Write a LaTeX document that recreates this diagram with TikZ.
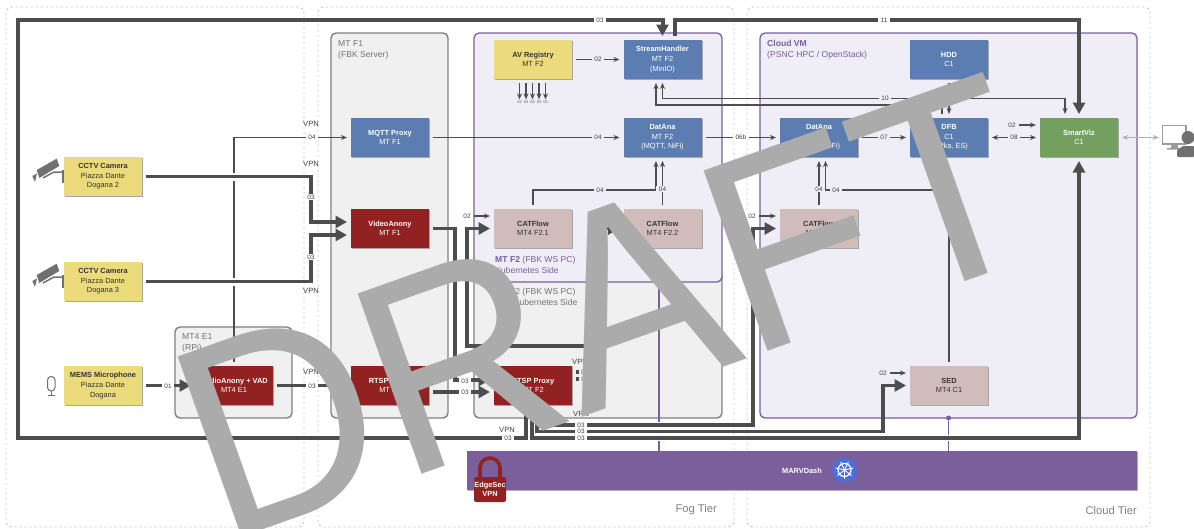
\documentclass[tikz,border=0pt]{standalone}
\usepackage{fontspec}
\setmainfont{Liberation Sans}
\usetikzlibrary{arrows.meta, shapes.geometric, shadows}
\definecolor{pipeink}{HTML}{4D4D4D}
\definecolor{tierline}{HTML}{C9C9C9}
\definecolor{hostfill}{HTML}{F0F0F0}
\definecolor{hostline}{HTML}{808080}
\definecolor{vmfill}{HTML}{EFEDF5}
\definecolor{vmline}{HTML}{7A5F9C}
\definecolor{srcyellow}{HTML}{EBDB7C}
\definecolor{svcblue}{HTML}{5B7DB1}
\definecolor{anonred}{HTML}{922222}
\definecolor{mtpink}{HTML}{D1BCBC}
\definecolor{vizgreen}{HTML}{74A05F}
\definecolor{kubeblue}{HTML}{4A6EE0}
\definecolor{iconink}{HTML}{707070}
\definecolor{stampgray}{HTML}{ABABAB}
\tikzset{
  tierbox/.style={
    rectangle, rounded corners=6pt, minimum width=#1, minimum height=520pt,
    draw=tierline, line width=0.9pt, dash pattern=on 2.5pt off 2.5pt
  },
  hostbox/.style={
    rectangle, rounded corners=5pt, outer sep=0pt,
    fill=hostfill, draw=hostline, line width=1.4pt
  },
  vmbox/.style={
    rectangle, rounded corners=5pt, outer sep=0pt,
    fill=vmfill, draw=vmline, line width=1.3pt
  },
  svcbox/.style={
    rectangle, outer sep=0pt, inner sep=0pt,
    minimum width=78pt, minimum height=39pt,
    align=center, font=\fontsize{7.4}{9.6}\selectfont,
    fill=#1, text=white,
    drop shadow={shadow xshift=1pt, shadow yshift=-1pt, fill=black!35, opacity=1}
  },
  inkbox/.style={svcbox=#1, text=black!80},
  hosttitle/.style={
    anchor=west, inner sep=0pt, align=left,
    font=\fontsize{8.6}{11}\selectfont, text=#1
  },
  linklabel/.style={
    font=\fontsize{6.4}{7}\selectfont, fill=#1, inner xsep=2.5pt, inner ysep=1pt, text=black!75
  },
  linklabel/.default=white,
  vpnlabel/.style={font=\fontsize{7.6}{9}\selectfont, inner sep=0pt, text=black!75},
  tierlabel/.style={anchor=east, inner sep=0pt, font=\fontsize{11.2}{13}\selectfont, text=black!50},
  thinarrow/.style={->, >={Stealth[length=6pt, width=5pt]}, line width=1.2pt, color=pipeink,
    shorten >=4pt, shorten <=4pt},
  fatarrow/.style={-{Triangle[length=11.5pt, width=12pt]}, line width=3.4pt, color=pipeink,
    shorten >=4pt, shorten <=4pt},
  crossgap/.style={white, line width=8pt},
  kubelink/.style={line width=1.2pt, color=vmline},
  camicon/.pic={
    \fill[iconink] (36.7,170)--(56.7,158.7)--(59.3,166)--(39.3,178)--cycle;
    \fill[iconink] (32.3,176)--(37,173.5)--(35,182)--cycle;
    \draw[iconink, line width=1.5pt] (43,178)--(54,172)--(63,172);
    \fill[iconink] (62,170) rectangle (65,183);
  },
  micicon/.pic={
    \draw[iconink, line width=1pt, rounded corners=3.5pt] (47.5,376.5) rectangle (55,391);
    \draw[iconink, line width=1pt] (51.2,391)--(51.2,395.5) (47.5,395.5)--(55,395.5);
  },
}
\begin{document}
\begin{tikzpicture}[x=1pt, y=-1pt]
  \useasboundingbox (0,0) rectangle (1194,528);
  \clip (0,0) rectangle (1194,528);
  \node[tierbox=298pt](edgetier) at (155,267) {};
  \node[tierbox=416pt](fogtier) at (526,267) {};
  \node[tierbox=403pt](cloudtier) at (948.5,267) {};
  \node[tierlabel](foglabel) at (717,510) {Fog Tier};
  \node[tierlabel](cloudlabel) at (1137,510) {Cloud Tier};

  \node[hostbox, minimum width=117pt, minimum height=91pt](mtfourhost) at (233.5,372.5) {};
  \node[hostbox, minimum width=117pt, minimum height=385pt](mtfonehost) at (389.5,225.5) {};
  \node[hostbox, minimum width=248pt, minimum height=148pt](mtftwohost) at (598,344) {};
  \node[vmbox, minimum width=248pt, minimum height=249pt](mtftwokube) at (598,157.5) {};
  \node[vmbox, minimum width=377pt, minimum height=385pt](cloudvm) at (948.5,225.5) {};
  \node[hosttitle=black!55](mtfourtitle) at (182,342.5) {MT4 E1\\(RPi)};
  \node[hosttitle=black!55](mtfonetitle) at (338,49.5) {MT F1\\(FBK Server)};
  \node[hosttitle=black!55](mtftwotitle) at (495,296.5) {MT F2 (FBK WS PC)\\Non-Kubernetes Side};
  \node[hosttitle=vmline](kubetitle) at (495,265) {\textbf{MT F2} (FBK WS PC)\\Kubernetes Side};
  \node[hosttitle=vmline](cloudtitle) at (767,49.5) {\textbf{Cloud VM}\\(PSNC HPC / OpenStack)};

  \draw[kubelink] (659,282)--(659,422);
  \node[rectangle, minimum width=670pt, minimum height=39pt, fill=vmline, text=white, outer sep=0pt,
        font=\fontsize{7.4}{9}\selectfont\bfseries,
        drop shadow={shadow xshift=1pt, shadow yshift=-1pt, fill=black!30, opacity=1}](marvdash) at (802,470.5) {MARVDash};
  \draw[kubelink] (659,441)--(marvdash.north -| 659,0);
  \node[circle, fill=vmline, inner sep=0pt, minimum size=5pt](seddot) at (948.5,418) {};
  \draw[kubelink] (seddot)--(948.5,435);
  \draw[kubelink] (948.5,441)--(marvdash.north -| seddot);

  \node[regular polygon, regular polygon sides=7, fill=kubeblue, inner sep=0pt, minimum size=26pt](kubewheel) at (844.5,470) {};
  \draw[white, line width=1.2pt] (kubewheel.center) circle (6.5pt);
  \foreach \a in {90,141.4,192.9,244.3,295.7,347.1,38.6}{
    \draw[white, line width=0.9pt] (kubewheel.center)--++(\a:-9pt);
  }

  \draw[anonred, line width=3.6pt] (480,480)--(480,468) arc[start angle=180, end angle=0, radius=10pt]--(500,480);
  \node[rectangle, rounded corners=2pt, fill=anonred, text=white, align=center, inner sep=0pt,
        minimum width=32pt, minimum height=25pt,
        font=\fontsize{7.4}{9.6}\selectfont\bfseries](edgesec) at (490,489.5) {EdgeSec\\VPN};

  \pic at (0,0) {camicon};
  \pic at (0,105) {camicon};
  \pic at (0,0) {micicon};

  \node[inkbox=srcyellow](cctva) at (103,176.5) {\textbf{CCTV Camera}\\Piazza Dante\\Dogana 2};
  \node[inkbox=srcyellow](cctvb) at (103,281.5) {\textbf{CCTV Camera}\\Piazza Dante\\Dogana 3};
  \node[inkbox=srcyellow](mems) at (103,385.5) {\textbf{MEMS Microphone}\\Piazza Dante\\Dogana};
  \node[svcbox=anonred](audio) at (234,385.5) {\textbf{AudioAnony + VAD}\\MT4 E1};
  \node[svcbox=svcblue](mqttf) at (390,137.5) {\textbf{MQTT Proxy}\\MT F1};
  \node[svcbox=anonred](vidanony) at (390,228.5) {\textbf{VideoAnony}\\MT F1};
  \node[svcbox=anonred](rtspf) at (390,385.5) {\textbf{RTSP Proxy}\\MT F1};
  \node[inkbox=srcyellow](avreg) at (533,59.5) {\textbf{AV Registry}\\MT F2};
  \node[svcbox=svcblue](stream) at (662.5,59.5) {\textbf{StreamHandler}\\MT F2\\(MinIO)};
  \node[svcbox=svcblue](datanaf) at (662.5,137.5) {\textbf{DatAna}\\MT F2\\(MQTT, NiFi)};
  \node[inkbox=mtpink](catfa) at (533,228.5) {\textbf{CATFlow}\\MT4 F2.1};
  \node[inkbox=mtpink](catfb) at (662.5,228.5) {\textbf{CATFlow}\\MT4 F2.2};
  \node[svcbox=anonred](rtspproxy) at (533,385.5) {\textbf{RTSP Proxy}\\MT F2};
  \node[svcbox=svcblue](datanac) at (819,137.5) {\textbf{DatAna}\\C1\\(MQTT, NiFi)};
  \node[inkbox=mtpink](catc) at (819,228.5) {\textbf{CATFlow}\\MT4 C1};
  \node[svcbox=svcblue](hdd) at (949,59.5) {\textbf{HDD}\\C1};
  \node[svcbox=svcblue](dfb) at (949,137.5) {\textbf{DFB}\\C1\\(Kafka, ES)};
  \node[inkbox=mtpink](sed) at (949,385.5) {\textbf{SED}\\MT4 C1};
  \node[svcbox=vizgreen](smartviz) at (1079,137.5) {\textbf{SmartViz}\\C1};

  \draw[iconink!70, line width=1.8pt, fill=white] (1162.5,125.5) rectangle (1186,144);
  \fill[iconink!70] (1171,144) rectangle (1178,148) (1167,148) rectangle (1182,149.5);
  \fill[iconink, rounded corners=1pt] (1177,157)--(1177,150)--(1183,146)--(1194,146)--(1194,157)--cycle;
  \node[circle, fill=iconink, inner sep=0pt, minimum size=13pt](userhead) at (1188,137.5) {};
  \coordinate (userend) at (1161,137.5);
  \draw[<->, >={Stealth[length=6pt, width=5pt]}, color=black!30, line width=1pt, shorten <=4pt, shorten >=2pt](smartviz.east)--(userend);

  \draw[thinarrow](audio.north) |- (mqttf.west);
  \draw[thinarrow](mqttf.east)--(datanaf.west);
  \draw[thinarrow](datanaf.east)--(datanac.west);
  \draw[thinarrow](avreg.east)--(stream.west);
  \draw[thinarrow](catfb.north)--(datanaf.south);
  \draw[thinarrow](catfa.north)--++(0,-19) -| ([xshift=-6.5pt]datanaf.south);
  \draw[thinarrow](catc.north)--(datanac.south);
  \draw[thinarrow, <-]([xshift=6.5pt]datanac.south)--++(0,33) -| (sed.north);
  \draw[thinarrow](datanac.east)--(dfb.west);
  \draw[thinarrow](hdd.south)--(dfb.north);
  \draw[thinarrow, <->](dfb.east)--(smartviz.west);
  \draw[thinarrow, <->](stream.south)--++(0,19.5) -| ([xshift=-14pt]smartviz.north);
  \draw[thinarrow, <-]([xshift=-6.5pt]stream.south)--++(0,26) -| ([xshift=-7pt]dfb.north);

  \node[linklabel=white](lbcata) at (467,216) {02};
  \node[linklabel=white](lbcatc) at (752,216) {02};
  \node[linklabel=vmfill](lbsed) at (883,373) {02};
  \node[linklabel=vmfill](lbviz) at (1012,125) {02};
  \draw[thinarrow, shorten <=1pt](lbcata.east)--(catfa.west |- lbcata);
  \draw[thinarrow, shorten <=1pt](lbcatc.east)--(catc.west |- lbcatc);
  \draw[thinarrow, shorten <=1pt](lbsed.east)--(sed.west |- lbsed);
  \draw[thinarrow, shorten <=1pt](lbviz.east)--(smartviz.west |- lbviz);

  \foreach \x/\t [count=\i] in {519.5/02, 526/03, 532.5/02, 539/03, 545.5/02}{
    \node[font=\fontsize{4}{4}\selectfont, inner sep=0.5pt, text=black!65](regl\i) at (\x,102) {\t};
    \draw[thinarrow, shorten >=0.5pt](avreg.south -| regl\i)--(regl\i.north);
  }

  \draw[crossgap] (229,176.5)--(238,176.5);
  \draw[crossgap] (229,281.5)--(238,281.5);
  \draw[fatarrow](cctva.east)--(311,176.5)--(311,222)--([yshift=6.5pt]vidanony.west);
  \draw[fatarrow](cctvb.east)--(311,281.5)--(311,235)--([yshift=-6.5pt]vidanony.west);
  \draw[fatarrow](mems.east)--(audio.west);
  \draw[fatarrow](audio.east)--(rtspf.west);
  \draw[fatarrow](vidanony.east)--(455,228.5)--(455,380)--([yshift=5.5pt]rtspproxy.west);
  \draw[fatarrow]([yshift=-6.5pt]rtspf.east)--([yshift=-6.5pt]rtspproxy.west);
  \draw[fatarrow]([yshift=13.5pt]rtspproxy.east)--(590,372)--(590,346)--(467,346)--(467,228.5)--(catfa.west);
  \draw[fatarrow]([yshift=6.5pt]rtspproxy.east)--(597,379)--(597,228.5)--(catfb.west);
  \draw[fatarrow, line width=4pt]([xshift=-7pt]rtspproxy.south)--(526,438)--(18,438)--(18,20) -| (stream.north);
  \draw[fatarrow, line width=4pt]([xshift=12.5pt]stream.north)--++(0,-20) -| (smartviz.north);
  \draw[fatarrow]([xshift=-1pt]rtspproxy.south)--(532,438) -| (smartviz.south);
  \draw[fatarrow]([xshift=4pt]rtspproxy.south)--(537,431.5) -| (883,385.5)--(sed.west);
  \draw[fatarrow]([xshift=11pt]rtspproxy.south)--(544,425) -| (753,228.5)--(catc.west);

  \node[linklabel](lba) at (312,137.5) {04};
  \node[linklabel](lbb) at (311,197) {03};
  \node[linklabel](lbc) at (311,257) {03};
  \node[linklabel](lbd) at (312,386) {03};
  \node[linklabel](lbe) at (168,386) {01};
  \node[linklabel=vmfill](lbf) at (598,137.5) {04};
  \node[linklabel](lbg) at (741,137.5) {06b};
  \node[linklabel=vmfill](lbh) at (598,59.5) {02};
  \node[linklabel=vmfill](lbi) at (600,190) {04};
  \node[linklabel=vmfill](lbj) at (662.5,189) {04};
  \node[linklabel=vmfill](lbk) at (885,98.5) {10};
  \node[linklabel=vmfill](lbl) at (884,137.5) {07};
  \node[linklabel=vmfill](lbm) at (1014,137.5) {08};
  \node[linklabel=vmfill](lbn) at (819,189) {04};
  \node[linklabel=vmfill](lbo) at (836,190) {04};
  \node[linklabel](lbp) at (465,381) {03};
  \node[linklabel](lbq) at (465,392) {03};
  \node[linklabel](lbr) at (600,20) {03};
  \node[linklabel](lbs) at (884,20) {11};
  \node[linklabel](lbt) at (508,438.5) {03};
  \node[linklabel](lbu) at (581,425) {03};
  \node[linklabel](lbv) at (581,431.5) {03};
  \node[linklabel](lbw) at (581,438) {03};
  \node[linklabel=hostfill](lbx) at (585,372) {03};
  \node[linklabel=hostfill](lby) at (585,379) {03};
  \node[vpnlabel](vpna) at (311,124) {VPN};
  \node[vpnlabel](vpnb) at (311,164) {VPN};
  \node[vpnlabel](vpnc) at (311,291) {VPN};
  \node[vpnlabel](vpnd) at (311,372) {VPN};
  \node[vpnlabel](vpne) at (507,430) {VPN};
  \node[vpnlabel](vpnf) at (581,414) {VPN};
  \node[vpnlabel](vpng) at (580,362) {VPN};

  \node[anchor=base west, rotate=19.5, xscale=0.952, inner sep=0pt, text=stampgray,
        font=\fontsize{278}{278}\selectfont](draftstamp) at (221,545) {DRAFT};
\end{tikzpicture}
\end{document}
